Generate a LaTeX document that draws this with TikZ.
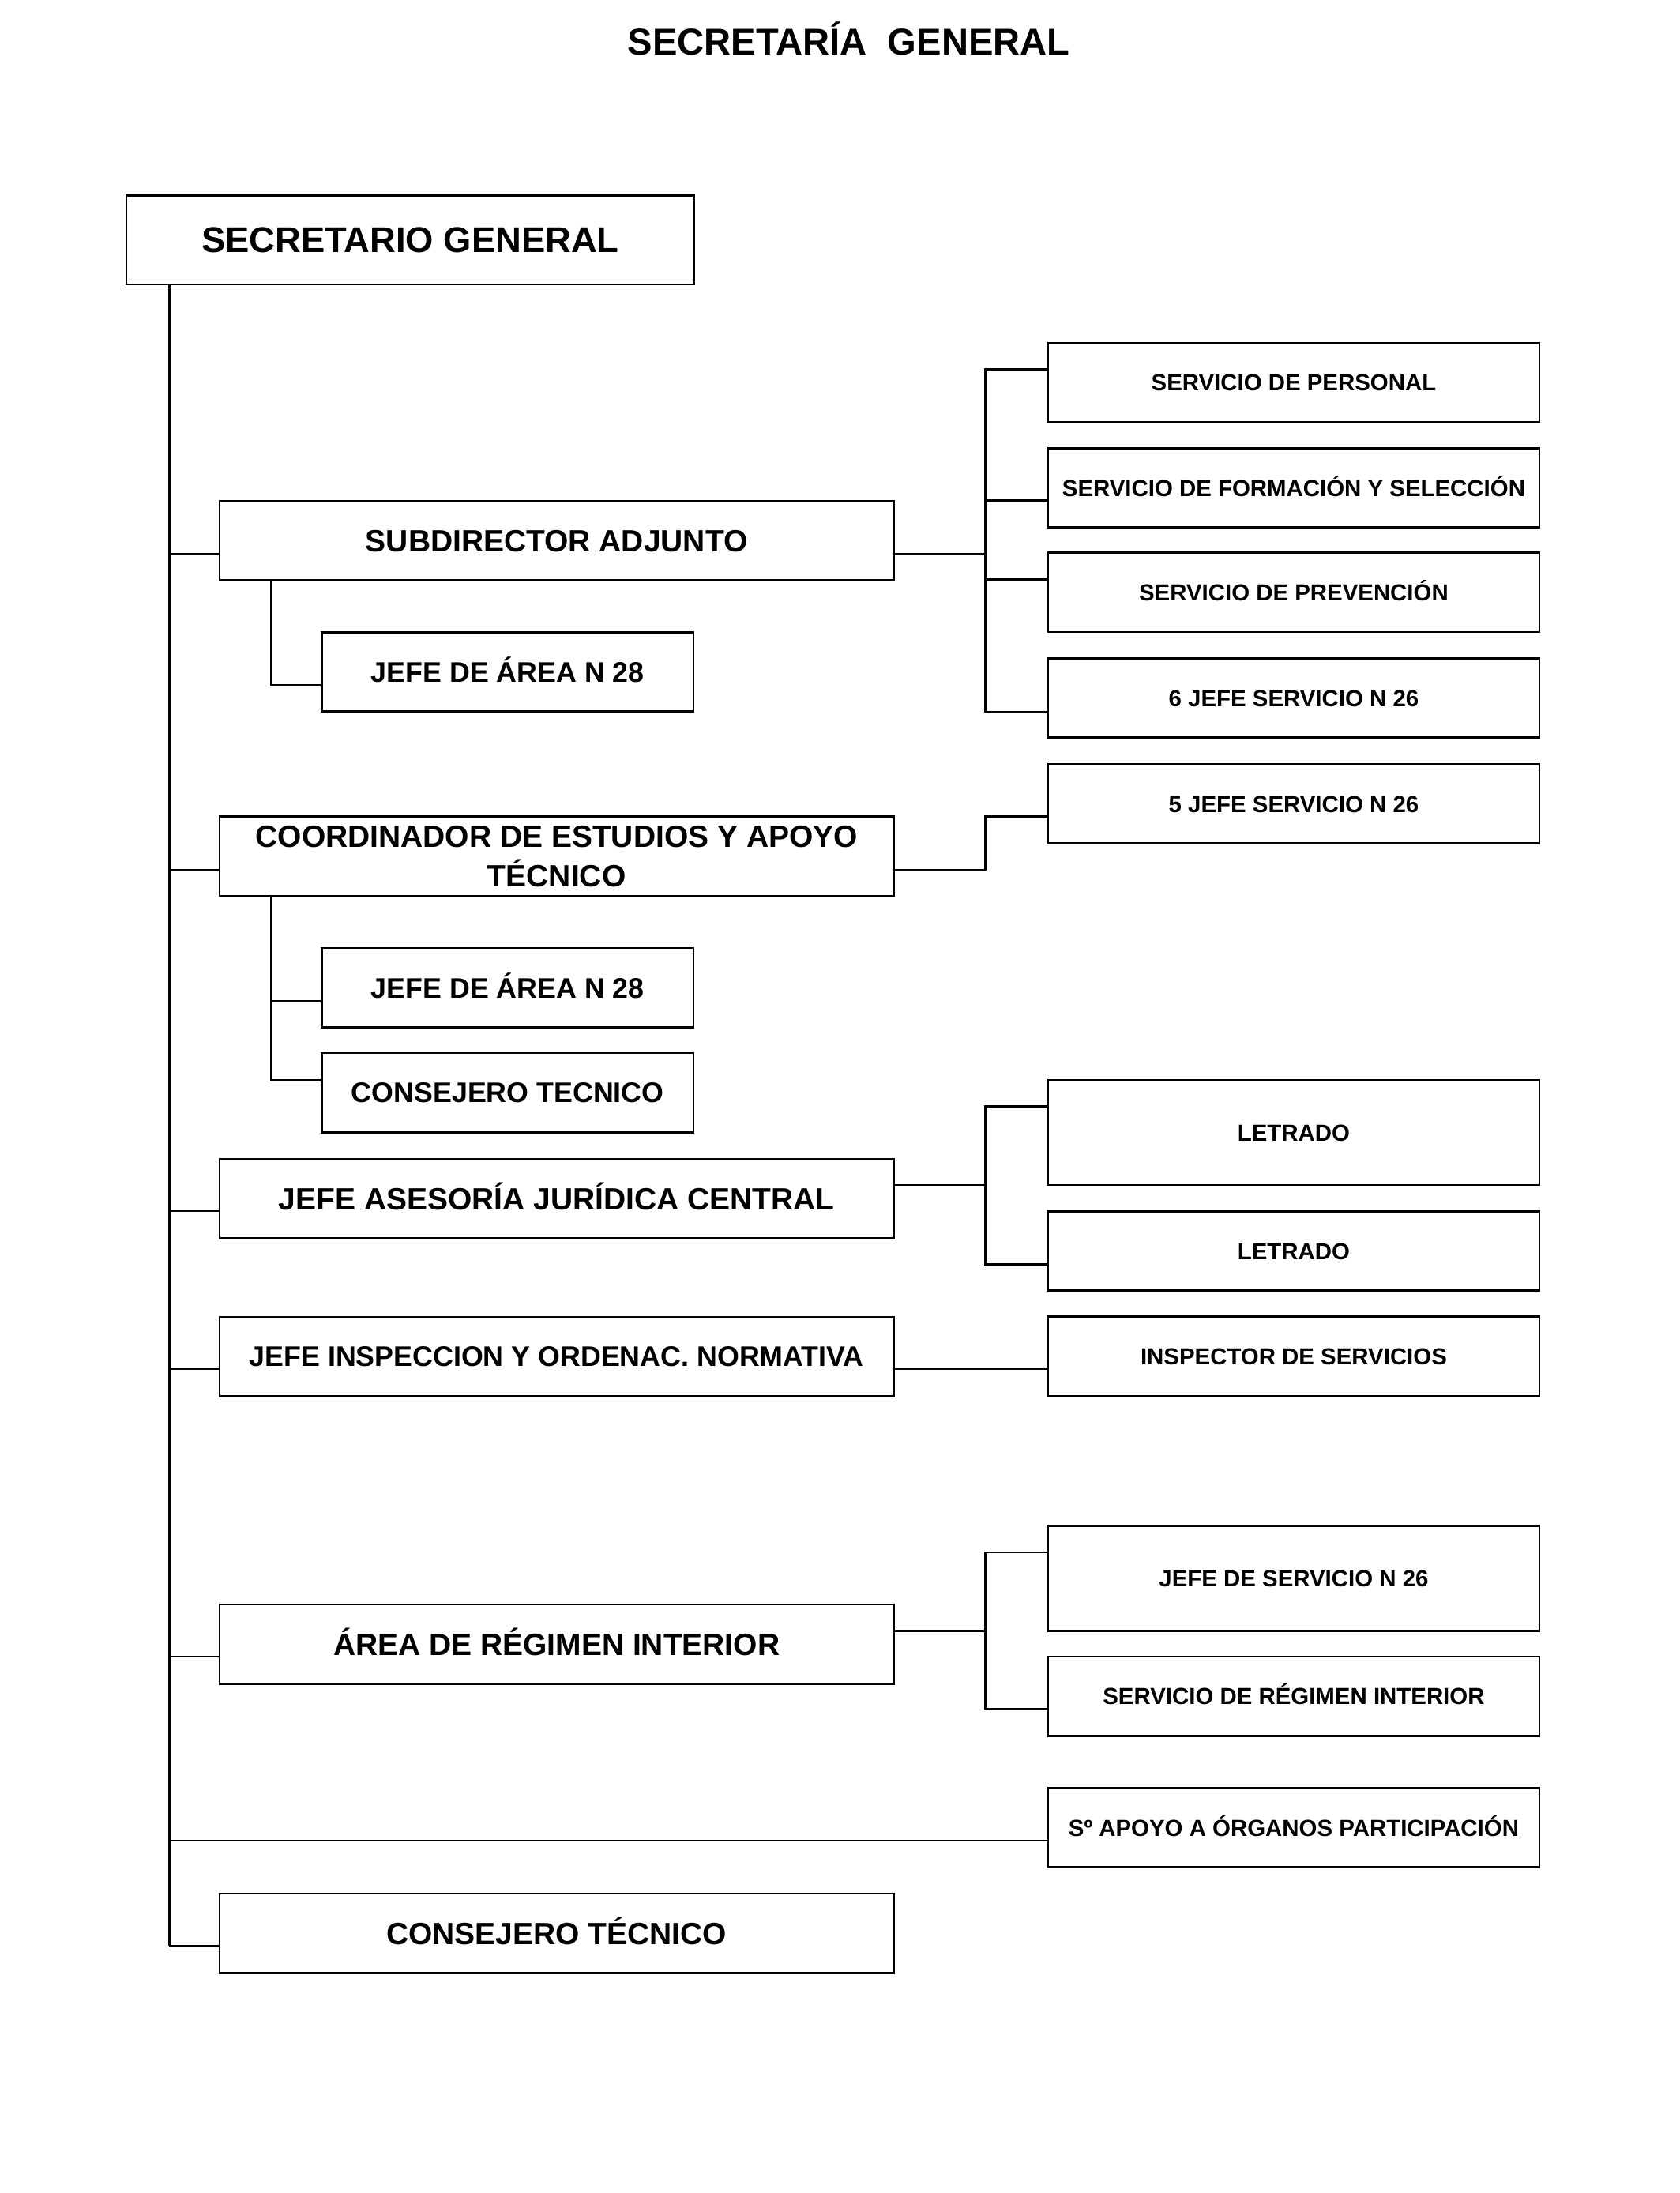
\documentclass[tikz,border=0pt]{standalone}
\usepackage{fontspec}
\setmainfont{Liberation Sans}
\begin{document}
\begin{tikzpicture}[x=0.5pt,y=-0.5pt,
  box/.style={draw, line width=0.75pt, inner sep=0pt, align=center,
    font=\bfseries\fontsize{11}{14.1}\selectfont, minimum height=28.3pt,
    text height=7.9pt, text depth=0pt},
  bigbox/.style={box, minimum width=240.75pt},
  midbox/.style={box, minimum width=132.8pt, font=\bfseries\fontsize{10.1}{12}\selectfont,
    text height=7.23pt},
  smallbox/.style={box, minimum width=175.5pt, font=\bfseries\fontsize{8.3}{10}\selectfont,
    text height=5.94pt},
  tallbox/.style={minimum height=37.6pt},
  conn/.style={line width=0.75pt}]
\useasboundingbox (0,0) rectangle (1200,1566.86);

\node[font=\bfseries\fontsize{13.3}{16}\selectfont] (title) at (606.6,27.3) {SECRETARÍA\ \ GENERAL};

\node[box, minimum width=202.85pt, minimum height=31.8pt, font=\bfseries\fontsize{12.8}{15}\selectfont, text height=9.16pt] (sec) at (293.15,171.4) {SECRETARIO GENERAL};

\node[bigbox] (sub) at (397.75,386.2) {SUBDIRECTOR ADJUNTO};
\node[midbox] (ja1) at (362.8,480) {JEFE DE ÁREA N 28};
\node[smallbox] (per) at (924.5,273.2) {SERVICIO DE PERSONAL};
\node[smallbox] (for) at (924.5,348.6) {SERVICIO DE FORMACIÓN Y SELECCIÓN};
\node[smallbox] (pre) at (924.5,423.3) {SERVICIO DE PREVENCIÓN};
\node[smallbox] (j6) at (924.5,498.7) {6 JEFE SERVICIO N 26};
\node[smallbox] (j5) at (924.5,574.4) {5 JEFE SERVICIO N 26};

\node[bigbox, text height=, text depth=] (coo) at (397.75,611.7) {COORDINADOR DE ESTUDIOS Y APOYO\\TÉCNICO};
\node[midbox] (ja2) at (362.8,705.7) {JEFE DE ÁREA N 28};
\node[midbox] (cte) at (362.8,780.7) {CONSEJERO TECNICO};

\node[bigbox] (ase) at (397.75,856.3) {JEFE ASESORÍA JURÍDICA CENTRAL};
\node[smallbox, tallbox] (le1) at (924.5,809.1) {LETRADO};
\node[smallbox] (le2) at (924.5,893.8) {LETRADO};

\node[bigbox, font=\bfseries\fontsize{10.1}{12}\selectfont, text height=7.23pt] (ins) at (397.75,969.2) {JEFE INSPECCION Y ORDENAC. NORMATIVA};
\node[smallbox] (isp) at (924.5,969) {INSPECTOR DE SERVICIOS};

\node[bigbox] (ari) at (397.75,1174.7) {ÁREA DE RÉGIMEN INTERIOR};
\node[smallbox, tallbox] (jse) at (924.5,1127.8) {JEFE DE SERVICIO N 26};
\node[smallbox] (sri) at (924.5,1211.9) {SERVICIO DE RÉGIMEN INTERIOR};

\node[smallbox] (sap) at (924.5,1305.9) {Sº APOYO A ÓRGANOS PARTICIPACIÓN};
\node[bigbox] (ctf) at (397.75,1381.2) {CONSEJERO TÉCNICO};

% trunk
\coordinate (h1) at (121,395.7);
\coordinate (h2) at (121,621.4);
\coordinate (h3) at (121,865.3);
\coordinate (h4) at (121,978.2);
\coordinate (h5) at (121,1183.6);
\coordinate (h6) at (121,1315.1);
\coordinate (h7) at (121,1390.4);
\draw[conn] (sec.south -| h1) -- (h7);
\draw[conn] (h1) -- (h1 -| sub.west);
\draw[conn] (h2) -- (h2 -| coo.west);
\draw[conn] (h3) -- (h3 -| ase.west);
\draw[conn] (h4) -- (h4 -| ins.west);
\draw[conn] (h5) -- (h5 -| ari.west);
\draw[conn] (h6) -- (h6 -| sap.west);
\draw[conn] (h7) -- (h7 -| ctf.west);

% inner left branches
\coordinate (s1) at (193.6,489.7);
\draw[conn] (sub.south -| s1) -- (s1) -- (s1 -| ja1.west);
\coordinate (s2) at (193.6,715.4);
\coordinate (s3) at (193.6,771.8);
\draw[conn] (coo.south -| s2) -- (s3) -- (s3 -| cte.west);
\draw[conn] (s2) -- (s2 -| ja2.west);

% subdirector bracket
\coordinate (r0) at (704,395.7);
\coordinate (p1) at (704,264);
\coordinate (p2) at (704,357.6);
\coordinate (p3) at (704,414);
\coordinate (p4) at (704,508.6);
\draw[conn] (sub.east |- r0) -- (r0);
\draw[conn] (p1 -| per.west) -- (p1) -- (p4) -- (p4 -| j6.west);
\draw[conn] (p2) -- (p2 -| for.west);
\draw[conn] (p3) -- (p3 -| pre.west);

% coordinador bracket
\coordinate (c1) at (704,621.4);
\coordinate (c2) at (704,583.5);
\draw[conn] (coo.east |- c1) -- (c1) -- (c2) -- (c2 -| j5.west);

% asesoria bracket
\coordinate (a0) at (704,846.6);
\coordinate (a1) at (704,790.5);
\coordinate (a2) at (704,903.2);
\draw[conn] (ase.east |- a0) -- (a0);
\draw[conn] (a1 -| le1.west) -- (a1) -- (a2) -- (a2 -| le2.west);

% inspeccion
\coordinate (i0) at (704,978.2);
\draw[conn] (ins.east |- i0) -- (i0 -| isp.west);

% regimen interior bracket
\coordinate (g0) at (704,1165.2);
\coordinate (g1) at (704,1109);
\coordinate (g2) at (704,1221.3);
\draw[conn] (ari.east |- g0) -- (g0);
\draw[conn] (g1 -| jse.west) -- (g1) -- (g2) -- (g2 -| sri.west);
\end{tikzpicture}
\end{document}
